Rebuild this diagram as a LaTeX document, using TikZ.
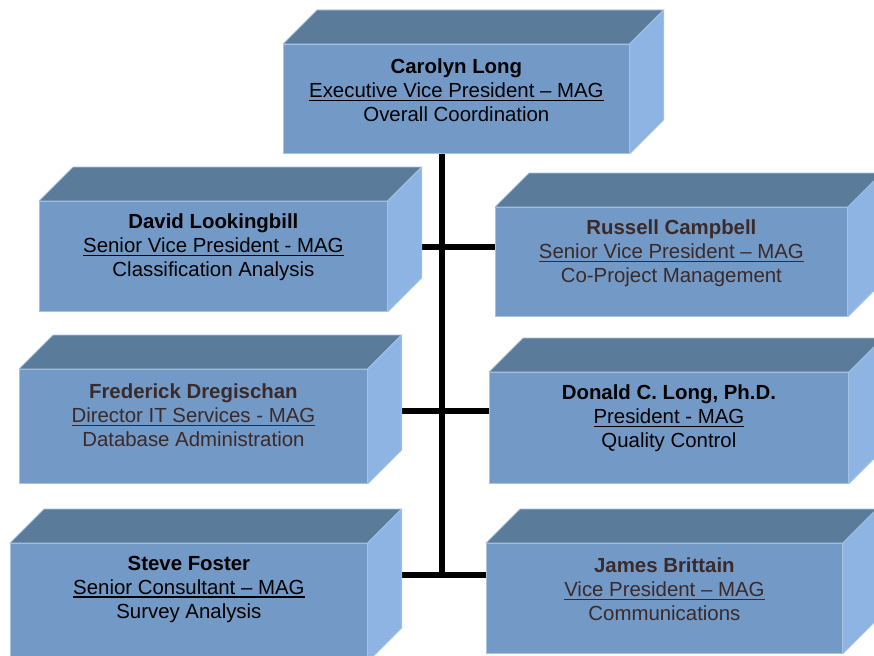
\documentclass[tikz,border=0pt]{standalone}
\usepackage{fontspec}
\setmainfont{Liberation Sans}
\usetikzlibrary{calc}
\definecolor{frontc}{HTML}{7399C6}
\definecolor{topc}{HTML}{5B7B9B}
\definecolor{sidec}{HTML}{8DB4E2}
\definecolor{edgec}{HTML}{A8C2E2}
\definecolor{txtk}{HTML}{000000}
\definecolor{txtb}{HTML}{3A2A2A}
\pgfdeclarelayer{bg}
\pgfsetlayers{bg,main}
\newcommand\ulthick[1]{\leavevmode\setbox0\hbox{#1}\rlap{\rule[-3.4pt]{\wd0}{1.5pt}}\box0}
\tikzset{
  frontface/.style={rectangle, fill=frontc, draw=edgec, line width=0.8pt, inner sep=0pt},
  topface/.style={fill=topc, draw=edgec, line width=0.8pt, line join=round},
  sideface/.style={fill=sidec, draw=edgec, line width=0.8pt, line join=round},
  boxtext/.style={align=center, inner sep=0pt, font=\fontsize{20.4}{24.2}\selectfont},
  connector/.style={line width=6pt, draw=black, line cap=butt}
}
\newcommand\cubebox[7]{%
  \node[frontface, minimum width=#4pt, minimum height=#5pt, anchor=north west] (#1) at (#2,#3) {};
  \path[topface] (#1.north west) -- ++(34,-34) -- ([shift={(34pt,34pt)}]#1.north east) -- (#1.north east) -- cycle;
  \path[sideface] (#1.north east) -- ++(34,-34) -- ([shift={(34pt,34pt)}]#1.south east) -- (#1.south east) -- cycle;
  \node[boxtext, text=#6] (#1-t) at ([yshift=-46.5pt]#1.north) {#7};
}
\begin{document}
\begin{tikzpicture}[x=1pt, y=-1pt]
\useasboundingbox (0,0) rectangle (874,655);
\clip (0,0) rectangle (874,655);
\cubebox{carolyn}{283}{44}{346}{109}{txtk}{\textbf{Carolyn Long}\\\ulthick{Executive Vice President – MAG}\\Overall Coordination}
\cubebox{david}{39}{201}{348}{110}{txtk}{\textbf{David Lookingbill}\\\ulthick{Senior Vice President - MAG}\\Classification Analysis}
\cubebox{russell}{495}{207}{352}{109}{txtb}{\textbf{Russell Campbell}\\\ulthick{Senior Vice President – MAG}\\Co-Project Management}
\cubebox{frederick}{19}{369}{348}{114}{txtb}{\textbf{Frederick Dregischan}\\\ulthick{Director IT Services - MAG}\\Database Administration}
\cubebox{donald}{489}{372}{359}{111}{txtk}{\textbf{Donald C. Long, Ph.D.}\\\ulthick{President - MAG}\\Quality Control}
\cubebox{steve}{10}{543}{357}{118}{txtk}{\textbf{Steve Foster}\\\ulthick{Senior Consultant – MAG}\\Survey Analysis}
\cubebox{james}{486}{543}{356}{110}{txtb}{\textbf{James Brittain}\\\ulthick{Vice President – MAG}\\Communications}
\coordinate (j1) at (442,247);
\coordinate (j2) at (442,411);
\coordinate (j3) at (442,575);
\begin{pgfonlayer}{bg}
  \draw[connector] (carolyn.south -| j3) -- ([yshift=-3pt]j3);
  \draw[connector] (david.east |- j1) -- (russell.west |- j1);
  \draw[connector] (frederick.east |- j2) -- (donald.west |- j2);
  \draw[connector] (steve.east |- j3) -- (james.west |- j3);
\end{pgfonlayer}
\end{tikzpicture}
\end{document}
